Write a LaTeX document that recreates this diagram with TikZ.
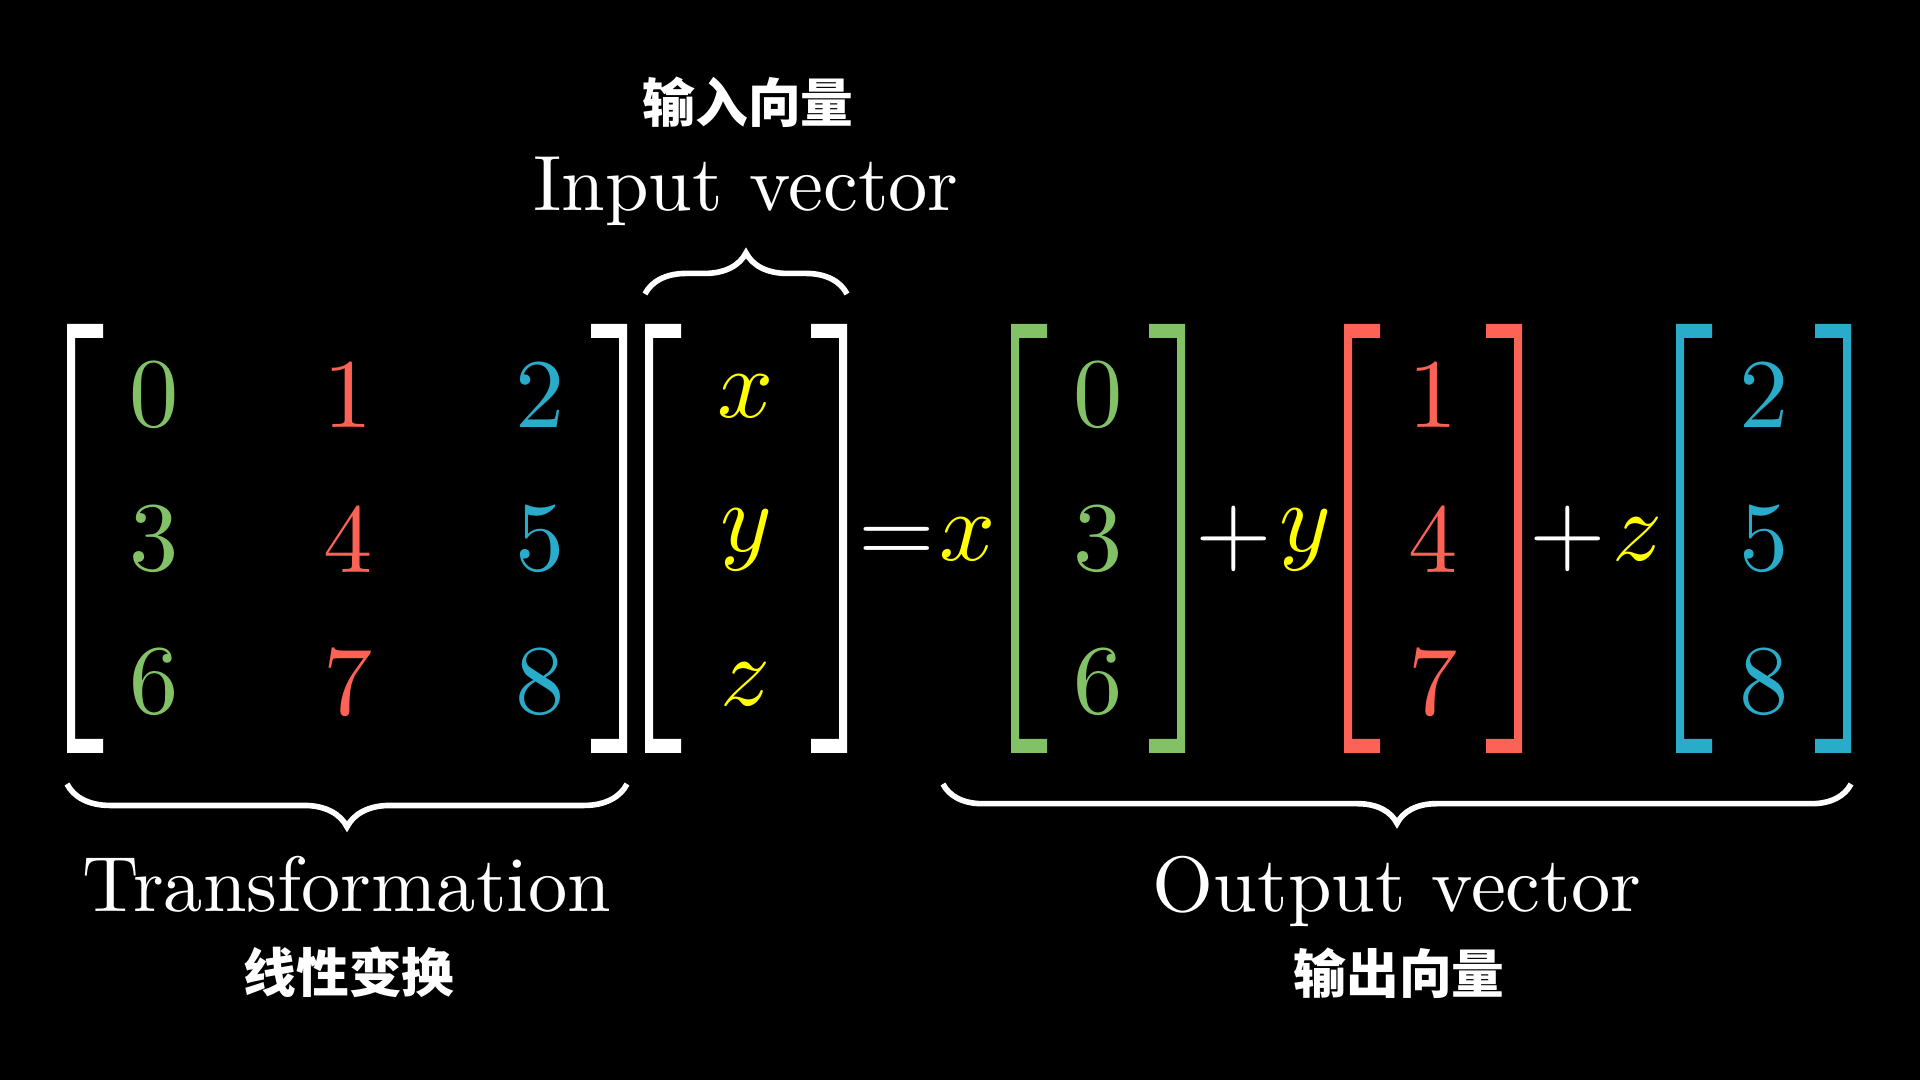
\documentclass[tikz,border=0pt]{standalone}
\usepackage{fontspec}
\usetikzlibrary{decorations.pathreplacing}
\newfontfamily\cjk{Noto Sans CJK SC}
\newfontfamily\lmdix{lmroman10-regular.otf}[ItalicFont=lmroman10-italic.otf]
\DeclareFontShape{OML}{cmm}{m}{it}{<->cmmi10}{} % x, y, z en italique mathématique
\definecolor{vert}{HTML}{83C167}
\definecolor{rouge}{HTML}{FC6255}
\definecolor{bleu}{HTML}{29ABCA}
\definecolor{jaune}{HTML}{FFFF00}

\begin{document}
\begin{tikzpicture}[x=0.01cm, y=-0.01cm,
  chiffre/.style={inner sep=0pt, font=\fontsize{28}{34}\lmdix},
  inconnue/.style={chiffre, text=jaune},
  etiquette/.style={inner sep=0pt, text=white, font=\fontsize{22.3}{27}\lmdix},
  sinogramme/.style={inner sep=0pt, text=white, font=\fontsize{15}{18}\cjk\bfseries},
  accolade/.style={white, line width=1.6pt, decorate, decoration={brace, amplitude=#1}}]
\fill[black] (0,0) rectangle (1920,1080); % fond noir, 1 unité = 1 pixel

% crochets
\foreach \g/\d/\c in {67/627/white, 645/847/white, 1011/1185/vert, 1344/1522/rouge, 1676/1851/bleu}{
  \fill[\c] (\g,324) -- ({\g+36},324) -- ({\g+36},338) -- ({\g+8},338) -- ({\g+8},739)
    -- ({\g+36},739) -- ({\g+36},753) -- (\g,753) -- cycle;
  \fill[\c] (\d,324) -- ({\d-36},324) -- ({\d-36},338) -- ({\d-8},338) -- ({\d-8},739)
    -- ({\d-36},739) -- ({\d-36},753) -- (\d,753) -- cycle;
}

% matrice et vecteurs colonnes
\foreach \col/\x/\xo/\c in {0/154/1098/vert, 1/348/1433/rouge, 2/540/1764/bleu}
  \foreach \lig/\y in {0/395, 1/539, 2/682}{
    \pgfmathtruncatemacro\val{3*\lig+\col}
    \node[chiffre, text=\c] (m\lig\col) at (\x,\y) {\val};
    \node[chiffre, text=\c] (v\lig\col) at (\xo,\y) {\val};
  }

\node[inconnue] (entx) at (746,396) {$x$};
\node[inconnue] (enty) at (746,540) {$y$};
\node[inconnue] (entz) at (746,684) {$z$};

\node[chiffre, text=white] (egal) at (897,545) {=};
\node[inconnue] (coefx) at (968,539) {$x$};
\node[chiffre, text=white] (plusa) at (1234,539) {+};
\node[inconnue] (coefy) at (1305,540) {$y$};
\node[chiffre, text=white] (plusb) at (1568,539) {+};
\node[inconnue] (coefz) at (1638,539) {$z$};

% accolades
\coordinate (hg) at (645,294);
\coordinate (hd) at (847,294);
\coordinate (bg) at (67,784);
\coordinate (bd) at (627,784);
\coordinate (sg) at (943,784);
\coordinate (sd) at (1851,784);
\draw[accolade=11.7pt] (hg) -- (hd);
\draw[accolade=12.2pt] (bd) -- (bg);
\draw[accolade=11.2pt] (sd) -- (sg);

\node[sinogramme] (titreentree) at (748,102) {输入向量};
\node[etiquette, anchor=base] (entree) at (746,211) {Input vector};
\node[etiquette, anchor=base] (transfo) at (347,912) {Transformation};
\node[sinogramme] (titretransfo) at (349,972) {线性变换};
\node[etiquette, anchor=base] (sortie) at (1397,912) {Output vector};
\node[sinogramme] (titresortie) at (1399,973) {输出向量};
\end{tikzpicture}
\end{document}
